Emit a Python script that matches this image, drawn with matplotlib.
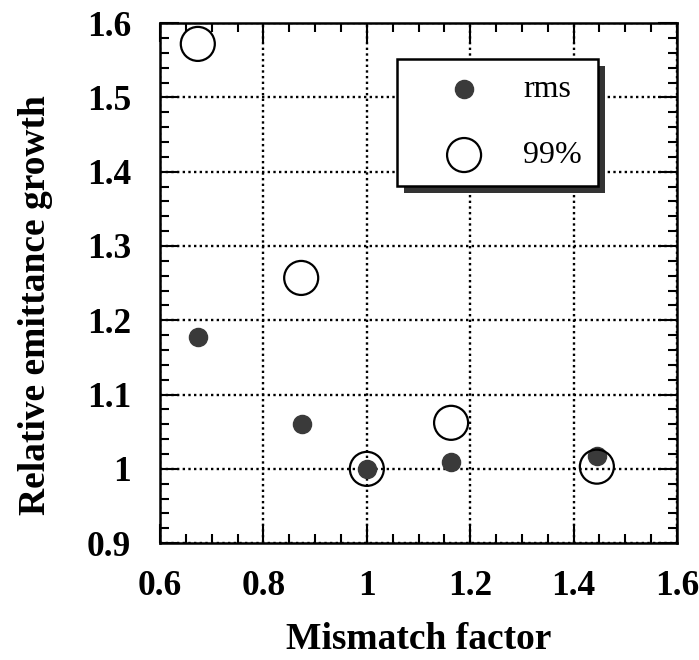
import matplotlib
matplotlib.use("Agg")
import matplotlib.pyplot as plt
from matplotlib.patches import Rectangle
from matplotlib.ticker import MultipleLocator

# data
mismatch_rms = [0.673, 0.875, 1.0, 1.163, 1.445]
growth_rms = [1.177, 1.061, 1.0, 1.009, 1.017]
mismatch_99 = [0.673, 0.873, 1.0, 1.163, 1.445]
growth_99 = [1.572, 1.257, 1.0, 1.062, 1.003]

x_ticks = [0.6, 0.8, 1.0, 1.2, 1.4, 1.6]
x_labels = ["0.6", "0.8", "1", "1.2", "1.4", "1.6"]
y_ticks = [0.9, 1.0, 1.1, 1.2, 1.3, 1.4, 1.5, 1.6]
y_labels = ["0.9", "1", "1.1", "1.2", "1.3", "1.4", "1.5", "1.6"]

plt.rcParams['font.family'] = ['Liberation Serif', 'DejaVu Serif']

fig = plt.figure(figsize=(6.99, 6.6), dpi=100)
ax = fig.add_axes([0.229, 0.177, 0.7395, 0.788])

ax.scatter(mismatch_rms, growth_rms, s=170, color='#3a3a3a', zorder=3, label='rms')
ax.scatter(mismatch_99, growth_99, s=600, facecolors='none', edgecolors='black',
           linewidths=1.6, zorder=4, label='99%')

ax.set_xlim(0.6, 1.6)
ax.set_ylim(0.9, 1.6)
ax.set_xticks(x_ticks)
ax.set_xticklabels(x_labels)
ax.set_yticks(y_ticks)
ax.set_yticklabels(y_labels)
ax.xaxis.set_minor_locator(MultipleLocator(0.05))
ax.yaxis.set_minor_locator(MultipleLocator(0.02))
ax.tick_params(which='both', direction='in', top=True, right=True, width=1.5)
ax.tick_params(which='major', length=14)
ax.tick_params(axis='x', which='major', pad=19, labelsize=25.5)
ax.tick_params(axis='y', which='major', pad=21, labelsize=25.5)
ax.tick_params(which='minor', length=6.5)
for lab in ax.get_xticklabels() + ax.get_yticklabels():
    lab.set_fontweight('bold')
for sp in ax.spines.values():
    sp.set_linewidth(1.8)

ax.grid(True, which='major', color='black', linestyle=(0, (1, 1.4)), linewidth=1.7)

ax.set_xlabel("Mismatch factor", fontsize=27, fontweight='bold')
ax.set_ylabel("Relative emittance growth", fontsize=27, fontweight='bold')
ax.xaxis.set_label_coords(0.5, -0.152)
ax.yaxis.set_label_coords(-0.207, 0.458)

leg = ax.legend(loc='upper right', bbox_to_anchor=(0.847, 0.931), fontsize=23,
                frameon=True, fancybox=False, edgecolor='black', framealpha=1,
                borderpad=0.5, labelspacing=1.15, handlelength=3.2,
                handletextpad=0.25, borderaxespad=0)
leg.get_frame().set_linewidth(1.8)
leg.set_zorder(10)

# shadow under the legend box
fig.canvas.draw()
bb = leg.get_window_extent()
shadow = Rectangle((bb.x0 + 7, bb.y0 - 7), bb.width, bb.height, transform=None,
                   facecolor='#333333', edgecolor='none', zorder=9)
ax.add_artist(shadow)

fig.savefig("out.png", dpi=100)
